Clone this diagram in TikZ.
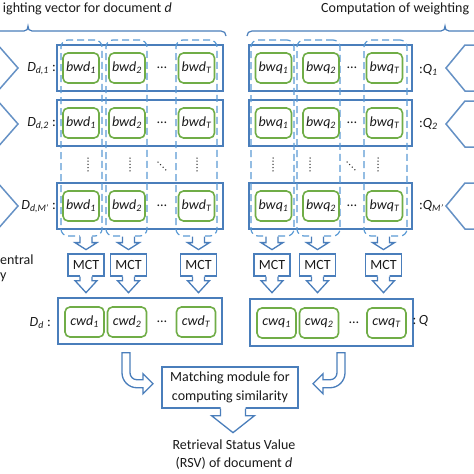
\documentclass[tikz,border=0pt]{standalone}
\usepackage{fontspec}
\setmainfont{Carlito}
\usetikzlibrary{calc}
\definecolor{rowblue}{HTML}{4A7EBB}
\definecolor{dashblue}{HTML}{5B9BD5}
\definecolor{boxgreen}{HTML}{70AD47}
\definecolor{txt}{HTML}{1A1A1A}
\definecolor{dotc}{HTML}{333333}
\newcommand\dfont{\fontsize{14}{17}\selectfont}
\tikzset{
  rowbox/.style={draw=rowblue, line width=1.5pt, minimum height=46pt, inner sep=0pt},
  colbox/.style={draw=dashblue, line width=1.2pt, dash pattern=on 7pt off 4pt, rounded corners=7pt, minimum height=196pt, inner sep=0pt},
  gbox/.style={draw=boxgreen, line width=1.6pt, rounded corners=5pt, minimum height=30pt, minimum width=36pt, inner sep=0pt, font=\dfont\itshape, text=txt},
  mct/.style={draw=rowblue, line width=1.3pt, fill=white, minimum width=36pt, minimum height=22pt, inner sep=0pt, font=\dfont, text=txt},
  mbox/.style={draw=rowblue, line width=1.3pt, fill=white, minimum width=136pt, minimum height=41pt, inner sep=0pt, align=center, font=\fontsize{14}{19}\selectfont, text=txt},
  lab/.style={inner sep=0pt, font=\dfont, text=txt},
  dotsnode/.style={inner sep=0pt, font=\dfont, text=txt},
  arw/.style={draw=rowblue, line width=1.3pt, line join=miter},
  chev/.style={draw=rowblue!85!white, line width=1.5pt, line join=miter},
  bracestyle/.style={draw=rowblue, line width=1.2pt},
}
\newcommand\dnarrow[5]{%
  \fill[white] ($#1+(-#2,-1.5)$) -- ++(0,#4+1.5) -- ++(-#3,0) -- ++(#2+#3,#5) -- ++(#2+#3,-#5) -- ++(-#3,0) -- ++(0,-#4-1.5) -- cycle;
  \draw[arw] ($#1+(-#2,0)$) -- ++(0,#4) -- ++(-#3,0) -- ++(#2+#3,#5) -- ++(#2+#3,-#5) -- ++(-#3,0) -- ++(0,-#4);
}
\begin{document}
\begin{tikzpicture}[x=1pt,y=-1pt]
\useasboundingbox (0,0) rectangle (474,474);
\fill[white] (0,0) rectangle (474,474);
\clip (0,0) rectangle (474,474);

% titles (cut by the picture edge)
\node[lab, anchor=base east] (titleL) at (172,12) {ighting vector for document \textit{d}};
\node[lab, anchor=base west] (titleR) at (321,12) {Computation of weighting};
\node[lab, anchor=base west] (ctL1) at (0,264) {entral};
\node[lab, anchor=base west] (ctL2) at (0,279) {y};

% braces
\draw[bracestyle] (-5,31) -- (24,31) .. controls (27,31) and (28,29) .. (28,26) .. controls (28,29) and (29,31) .. (32,31) -- (221,31) .. controls (224,31) and (226,33) .. (226,36);
\draw[bracestyle] (247,36) .. controls (247,33) and (249,31) .. (252,31) -- (441,31) .. controls (444,31) and (445,29) .. (445,26) .. controls (445,29) and (446,31) .. (449,31) -- (480,31);

% chevrons
\foreach \c in {68,124,206}{
  \draw[chev] (-40,\c-24) -- (-3,\c-24) -- (18,\c) -- (-3,\c+24) -- (-40,\c+24);
  \draw[chev] (500,\c-23) -- (465,\c-23) -- (446,\c) -- (465,\c+23) -- (500,\c+23);
}

% rows
\node[rowbox, minimum width=166pt] (L1) at (140,68) {};
\node[rowbox, minimum width=166pt] (L2) at (140,123) {};
\node[rowbox, minimum width=166pt] (LM) at (140,206) {};
\node[rowbox, minimum width=163pt] (R1) at (330.5,68) {};
\node[rowbox, minimum width=163pt] (R2) at (330.5,123) {};
\node[rowbox, minimum width=163pt] (RM) at (330.5,206) {};

% dashed columns
\node[colbox, minimum width=41pt] (LC1) at (81.5,138) {};
\node[colbox, minimum width=41pt] (LC2) at (126.5,138) {};
\node[colbox, minimum width=41pt] (LCT) at (196.5,138) {};
\node[colbox, minimum width=43pt] (RC1) at (272.5,138) {};
\node[colbox, minimum width=43pt] (RC2) at (318.5,138) {};
\node[colbox, minimum width=43pt] (RCT) at (385.5,138) {};

% green boxes
\foreach \r/\yy in {1/68,2/123,M/206}{
  \node[gbox] (bwdA\r) at (81,\yy) {bwd\textsubscript{1}};
  \node[gbox] (bwdB\r) at (127,\yy) {bwd\textsubscript{2}};
  \node[gbox] (bwdT\r) at (196.5,\yy) {bwd\textsubscript{T}};
  \node[dotsnode] (ldots\r) at (162,\yy) {…};
  \node[gbox] (bwqA\r) at (273.5,\yy) {bwq\textsubscript{1}};
  \node[gbox] (bwqB\r) at (321,\yy) {bwq\textsubscript{2}};
  \node[gbox] (bwqT\r) at (384.5,\yy) {bwq\textsubscript{T}};
  \node[dotsnode] (rdots\r) at (352,\yy) {…};
}

% labels
\node[lab, anchor=east] (Dl1) at (56,69) {\textit{D\textsubscript{d,1}} :};
\node[lab, anchor=east] (Dl2) at (56,124) {\textit{D\textsubscript{d,2}} :};
\node[lab, anchor=east] (DlM) at (56,207) {\textit{D\textsubscript{d,M'}} :};
\node[lab, anchor=west] (Ql1) at (419,70) {:\textit{Q\textsubscript{1}}};
\node[lab, anchor=west] (Ql2) at (419,124) {:\textit{Q\textsubscript{2}}};
\node[lab, anchor=west] (QlM) at (419,206) {:\textit{Q\textsubscript{M'}}};

% dots between rows
\foreach \xx in {88,130,197,273,310,378}{
  \foreach \k in {0,1,2,3,4}{ \fill[dotc] (\xx,158+3.2*\k) circle (0.75pt); }
}
\foreach \xx in {158,347}{
  \foreach \k in {0,1,2,3}{ \fill[dotc] (\xx+2.6*\k,162+2.6*\k) circle (0.75pt); }
}

% MCT boxes
\node[mct] (mctL1) at (86,265) {MCT};
\node[mct] (mctL2) at (128.5,265) {MCT};
\node[mct] (mctLT) at (198.5,265) {MCT};
\node[mct] (mctR1) at (272,265) {MCT};
\node[mct] (mctR2) at (317.5,265) {MCT};
\node[mct] (mctRT) at (383.5,265) {MCT};

% arrows column -> MCT
\dnarrow{(mctL1.north |- LC1.south)}{6}{5}{6}{7}
\dnarrow{(mctL2.north |- LC2.south)}{6}{5}{6}{7}
\dnarrow{(mctLT.north |- LCT.south)}{6}{5}{6}{7}
\dnarrow{(mctR1.north |- RC1.south)}{6}{5}{6}{7}
\dnarrow{(mctR2.north |- RC2.south)}{6}{5}{6}{7}
\dnarrow{(mctRT.north |- RCT.south)}{6}{5}{6}{7}

% central tendency rows
\node[rowbox, minimum width=164pt] (Dd) at (140,321) {};
\node[rowbox, minimum width=163pt, minimum height=47pt] (Qr) at (331.5,322.5) {};
\node[gbox, minimum width=39pt] (cwdA) at (84.5,322) {cwd\textsubscript{1}};
\node[gbox, minimum width=39pt] (cwdB) at (127,322) {cwd\textsubscript{2}};
\node[gbox, minimum width=39pt] (cwdT) at (196,322) {cwd\textsubscript{T}};
\node[dotsnode] (cdots) at (162,322) {…};
\node[gbox, minimum width=39pt] (cwqA) at (276.5,323) {cwq\textsubscript{1}};
\node[gbox, minimum width=39pt] (cwqB) at (319,323) {cwq\textsubscript{2}};
\node[gbox, minimum width=39pt] (cwqT) at (386.5,323) {cwq\textsubscript{T}};
\node[dotsnode] (qdots) at (354,323) {…};
\node[lab, anchor=east] (Ddl) at (51,323) {\textit{D\textsubscript{d}} :};
\node[lab, anchor=west] (Qdl) at (412.5,321) {:\,\textit{Q}};

% arrows MCT -> rows
\dnarrow{(mctL1.south)}{6}{5}{4}{12}
\dnarrow{(mctL2.south)}{6}{5}{4}{12}
\dnarrow{(mctLT.south)}{6}{5}{4}{12}
\dnarrow{(mctR1.south)}{6}{5}{4}{12}
\dnarrow{(mctR2.south)}{6}{5}{4}{12}
\dnarrow{(mctRT.south)}{6}{5}{4}{12}

% matching module
\node[mbox] (match) at (230,387.5) {Matching module for\\computing similarity};
\dnarrow{(match.south)+(3,0)}{12.5}{9}{7}{17}

% U-turn arrows
\coordinate (uL) at ($(Dd.south)+(-18,8)$);
\draw[arw, fill=white] (uL) -- ++(0,20) .. controls +(0,8.3) and +(-8.3,0) .. ++(15,15) -- ++(6,0) -- ++(0,6) -- ++(10,-10) -- ++(-10,-10) -- ++(0,6) -- ++(-6,0) .. controls +(-3.9,0) and +(0,3.9) .. ++(-7,-7) -- ++(0,-20) -- cycle;
\coordinate (uR) at ($(Qr.south)+(13.5,6)$);
\draw[arw, fill=white] (uR) -- ++(0,20) .. controls +(0,8.3) and +(8.3,0) .. ++(-15,15) -- ++(-7,0) -- ++(0,6) -- ++(-10,-10) -- ++(10,-10) -- ++(0,6) -- ++(7,0) .. controls +(3.9,0) and +(0,3.9) .. ++(7,-7) -- ++(0,-20) -- cycle;

% result
\node[lab, align=center, font=\fontsize{14}{18}\selectfont] (rsv) at (234,455) {Retrieval Status Value\\(RSV) of document \textit{d}};
\end{tikzpicture}
\end{document}
